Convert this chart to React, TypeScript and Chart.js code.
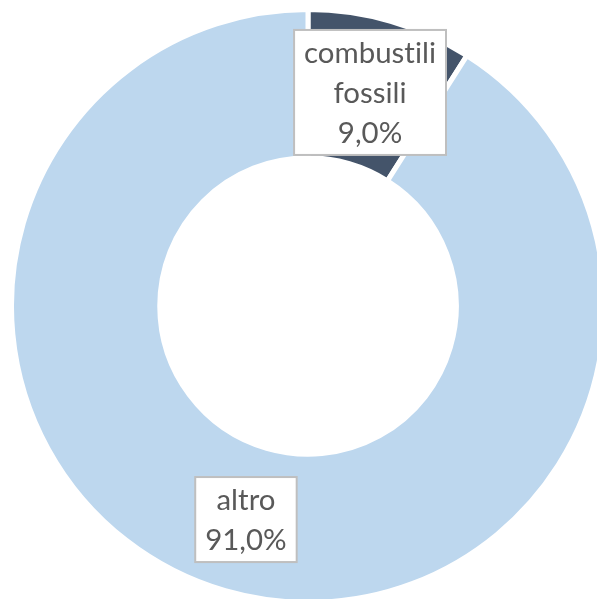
import React, { useEffect, useRef } from "react";
import { Chart, registerables } from "chart.js";

Chart.register(...registerables);

const LABELS = ["combustili fossili", "altro"];
const VALUES = [9.0, 91.0];
const COLORS = ["#44546A", "#BDD7EE"];

const FONT_FAMILY = "Lato, 'Open Sans', sans-serif";
const TEXT_COLOR = "#595959";

function fmtPct(v: number, total: number): string {
  return ((v / total) * 100).toFixed(1).replace(".", ",") + "%";
}

const labelPlugin = {
  id: "boxLabels",
  afterDatasetsDraw(chart: any) {
    const meta = chart.getDatasetMeta(0);
    const ctx = chart.ctx as CanvasRenderingContext2D;
    const total = VALUES.reduce((a, b) => a + b, 0);
    ctx.save();
    // a tiny letter spacing disables ligatures (e.g. "ti") in Chrome
    (ctx as any).letterSpacing = "0.01px";
    ctx.font = `31px ${FONT_FAMILY}`;
    const ref = ctx.measureText("combustili").width;
    const size = (31 * 132) / ref;
    ctx.font = `${size}px ${FONT_FAMILY}`;
    const lh = 40;
    const padX = 10;
    const padY = 2.5;
    meta.data.forEach((arc: any, i: number) => {
      const { x, y } = arc.tooltipPosition();
      const lines = [...LABELS[i].split(" "), fmtPct(VALUES[i], total)];
      const w = Math.max(...lines.map((l) => ctx.measureText(l).width)) + padX * 2;
      const h = lines.length * lh + padY * 2;
      const bx = x - w / 2;
      const by = y - h / 2;
      ctx.fillStyle = "#FFFFFF";
      ctx.fillRect(bx, by, w, h);
      ctx.strokeStyle = "#BFBFBF";
      ctx.lineWidth = 2;
      ctx.strokeRect(bx, by, w, h);
      ctx.fillStyle = TEXT_COLOR;
      ctx.textAlign = "center";
      ctx.textBaseline = "middle";
      lines.forEach((l, k) => {
        ctx.fillText(l, x, by + padY + lh * k + lh / 2 + 1);
      });
    });
    ctx.restore();
  },
};

export default function App() {
  const ref = useRef<HTMLCanvasElement>(null);
  useEffect(() => {
    if (!ref.current) return;
    const chart = new Chart(ref.current, {
      type: "doughnut",
      data: {
        labels: LABELS,
        datasets: [
          {
            data: VALUES,
            backgroundColor: COLORS,
            borderColor: "#FFFFFF",
            borderWidth: 5,
            hoverOffset: 0,
          },
        ],
      },
      options: {
        responsive: false,
        animation: false,
        cutout: "50%",
        rotation: 0,
        layout: { padding: 0 },
        plugins: {
          legend: { display: false },
          tooltip: { enabled: false },
        },
        events: [],
      },
      plugins: [labelPlugin],
    });
    return () => chart.destroy();
  }, []);
  return (
    <div
      style={{
        position: "fixed",
        left: 0,
        top: 0,
        width: "100vw",
        height: "100vh",
        overflow: "hidden",
        background: "#FFFFFF",
      }}
    >
      <div style={{ position: "absolute", left: 9, top: 7, width: 598, height: 598 }}>
        <canvas ref={ref} width={598} height={598} style={{ width: 598, height: 598, display: "block" }} />
      </div>
    </div>
  );
}
